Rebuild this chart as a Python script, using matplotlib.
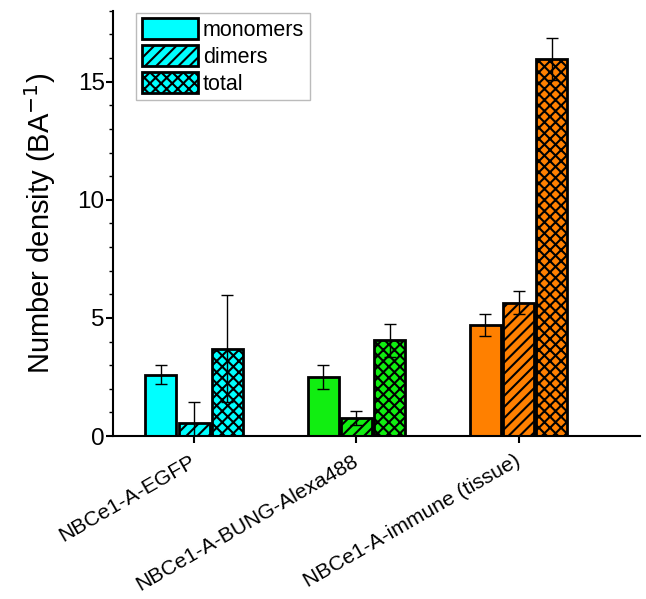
import numpy as np
import matplotlib.pyplot as plt
from matplotlib.ticker import MultipleLocator

plt.rcParams['font.family'] = ['Liberation Sans', 'DejaVu Sans']
plt.rcParams['hatch.linewidth'] = 1.5

samples = ["NBCe1-A-EGFP", "NBCe1-A-BUNG-Alexa488", "NBCe1-A-immune (tissue)"]
series = ["monomers", "dimers", "total"]
hatches = ["", "///", "xxx"]
colors = ["#00FFFF", "#11EE11", "#FF8000"]

monomers = [2.6, 2.5, 4.7]
monomers_err = [0.4, 0.5, 0.45]
dimers = [0.55, 0.75, 5.65]
dimers_err = [0.9, 0.3, 0.5]
total = [3.7, 4.05, 15.95]
total_err = [2.25, 0.7, 0.9]

values = [monomers, dimers, total]
errors = [monomers_err, dimers_err, total_err]

fig = plt.figure(figsize=(6.46, 5.99), dpi=100)
ax = fig.add_axes([0.175, 0.272, 0.816, 0.71])

x = np.arange(len(samples))
width = 0.19
step = 0.205
for j in range(3):
    pos = x + (j - 1) * step
    ax.bar(pos, values[j], width, color=colors, edgecolor="black",
           linewidth=2, hatch=hatches[j], zorder=2)
    ax.errorbar(pos, values[j], yerr=errors[j], fmt="none", ecolor="black",
                elinewidth=1, capsize=4, capthick=1, zorder=3)

# legend uses the cyan style
handles = [plt.Rectangle((0, 0), 1, 1, facecolor="#00FFFF", edgecolor="black",
                         linewidth=2, hatch=h) for h in hatches]
leg = ax.legend(handles, series, loc="upper left", bbox_to_anchor=(0.04, 1.0),
                fontsize=15.5, fancybox=False, edgecolor="#aaaaaa",
                handlelength=2.6, handleheight=1.1, handletextpad=0.25,
                labelspacing=0.2, borderpad=0.25, borderaxespad=0.1)
leg.get_frame().set_linewidth(1)

ax.set_xlim(-0.5, 2.75)
ax.set_ylim(0, 18)
ax.set_yticks([0, 5, 10, 15])
ax.yaxis.set_minor_locator(MultipleLocator(1))
ax.set_xticks(x)
ax.set_xticklabels(samples, rotation=30, ha="right", va="center",
                   rotation_mode="anchor", fontsize=15.2)
ax.tick_params(axis="y", labelsize=17.5, width=1.5, length=5, direction="out", pad=1)
ax.tick_params(axis="y", which="minor", width=1, length=3, direction="out")
ax.tick_params(axis="x", width=1.5, length=5, direction="out", pad=12)
ax.set_ylabel("Number density (BA$^{-1}$)", fontsize=21)
ax.yaxis.set_label_coords(-0.105, 0.5)
ax.spines["top"].set_visible(False)
ax.spines["right"].set_visible(False)
ax.spines["left"].set_linewidth(1.5)
ax.spines["bottom"].set_linewidth(1.5)

plt.savefig("out.png", dpi=100)
